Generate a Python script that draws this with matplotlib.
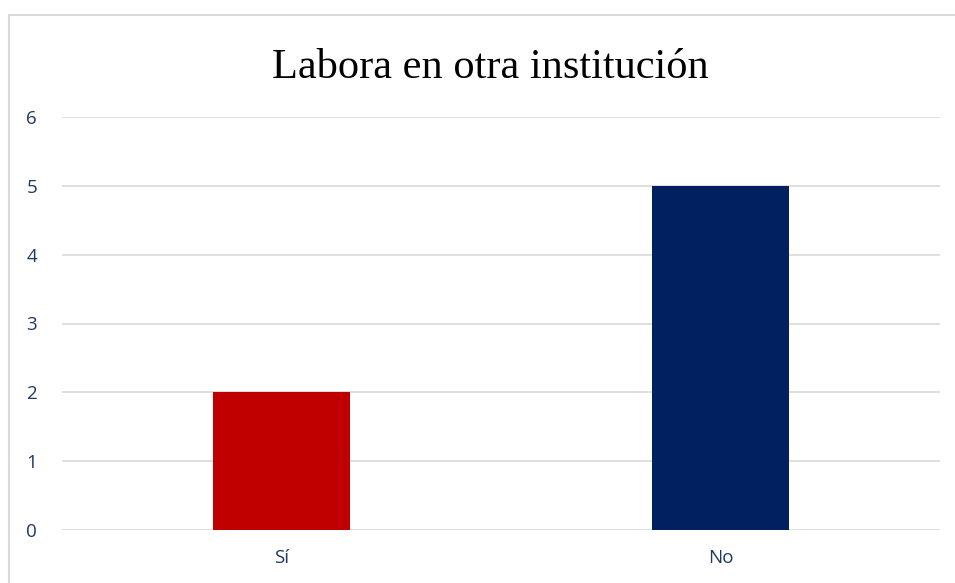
import matplotlib.pyplot as plt
from matplotlib.patches import Rectangle

categories = ["Sí", "No"]
values = [2, 5]
colors = ["#C00000", "#002060"]
yticks = [0, 1, 2, 3, 4, 5, 6]

if __name__ == "__main__":
    fig = plt.figure(figsize=(9.55, 5.83), dpi=100)
    ax = fig.add_axes([62 / 955, 1 - 530 / 583, 878 / 955, 413 / 583])

    x = range(len(categories))
    ax.bar(x, values, width=0.314, color=colors, zorder=3)
    ax.set_xlim(-0.5, len(categories) - 0.5)
    ax.set_ylim(0, 6)
    ax.set_xticks(list(x))
    ax.set_xticklabels(categories)
    ax.set_yticks(yticks)
    ax.yaxis.grid(True, color="#D9D9D9", linewidth=1.2, zorder=0)
    for s in ax.spines.values():
        s.set_visible(False)
    ax.tick_params(length=0, labelsize=13.5, labelcolor="#1F3864")
    ax.tick_params(axis="y", pad=18)
    ax.tick_params(axis="x", pad=14)
    for lab in ax.get_xticklabels() + ax.get_yticklabels():
        lab.set_fontfamily(["Open Sans", "DejaVu Sans"])

    fig.text(490 / 955, 1 - 78 / 583, "Labora en otra institución",
             ha="center", va="baseline", fontsize=30.5,
             family=["Liberation Serif", "DejaVu Serif"], color="black")

    fig.patches.append(Rectangle((9 / 955, -0.1), 1.2, 1 - 15 / 583 + 0.1,
                                 transform=fig.transFigure, fill=False,
                                 edgecolor="#D9D9D9", linewidth=1.5))

    plt.savefig("out.png", dpi=100)
